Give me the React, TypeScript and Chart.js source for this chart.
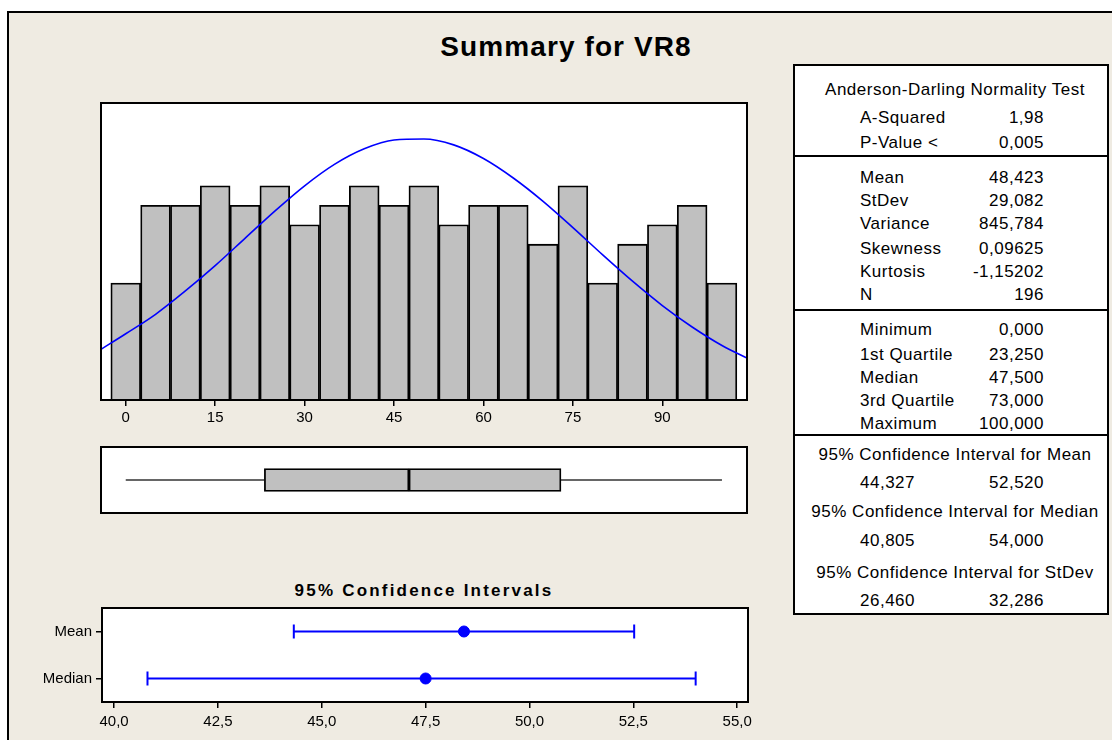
import React, { useEffect, useRef } from 'react';
import { Chart, registerables } from 'chart.js';

Chart.register(...registerables);

// ---------------- data ----------------
const TITLE = 'Summary for VR8';
const CI_PANEL_TITLE = '95% Confidence Intervals';

// histogram (bin centers, counts)
const BIN_CENTERS = [0, 5, 10, 15, 20, 25, 30, 35, 40, 45, 50, 55, 60, 65, 70, 75, 80, 85, 90, 95, 100];
const BIN_COUNTS = [6, 10, 10, 11, 10, 11, 9, 10, 11, 10, 11, 9, 10, 10, 8, 11, 6, 8, 9, 10, 6];
const HIST_TICKS = [0, 15, 30, 45, 60, 75, 90];
const HIST_X_RANGE = [-4.15, 104.2];
const HIST_Y_MAX = 15.25;

// fitted normal curve (in count units)
const CURVE_X = [-4.15, 0, 5, 10, 15, 20, 25, 30, 35, 40, 45, 50, 55, 60, 65, 70, 75, 80, 85, 90, 95, 100, 104.2];
const CURVE_Y = [2.6, 3.4, 4.4, 5.6, 6.9, 8.3, 9.7, 11.0, 12.1, 12.9, 13.35, 13.4, 13.1, 12.4, 11.4, 10.2, 8.85, 7.45, 6.1, 4.85, 3.75, 2.8, 2.15];

// five-number summary (min, Q1, median, Q3, max)
const QUANT_LABELS = ['Minimum', '1st Quartile', 'Median', '3rd Quartile', 'Maximum'];
const QUANT_VALUES = [0, 23.25, 47.5, 73, 100];

// Anderson-Darling
const AD_LABELS = ['A-Squared', 'P-Value <'];
const AD_VALUES = [1.98, 0.005];
const AD_DECIMALS = [2, 3];

// descriptive statistics
const DESC_LABELS = ['Mean', 'StDev', 'Variance', 'Skewness', 'Kurtosis', 'N'];
const DESC_VALUES = [48.423, 29.082, 845.784, 0.09625, -1.15202, 196];
const DESC_DECIMALS = [3, 3, 3, 5, 5, 0];

// confidence intervals
const CI_NAMES = ['Mean', 'Median', 'StDev'];
const CI_LOWER = [44.327, 40.805, 26.46];
const CI_UPPER = [52.52, 54.0, 32.286];
const CI_PLOT_LABELS = ['Mean', 'Median'];
const CI_PLOT_CENTER = [48.423, 47.5];
const CI_TICKS = [40, 42.5, 45, 47.5, 50, 52.5, 55];
const CI_X_RANGE = [39.71, 55.26];

// ---------------- styles ----------------
const BG = '#EFEBE2';
const BLUE = '#0000FF';
const BAR_GRAY = '#C0C0C0';
const TICK_FONT = { family: "'Liberation Sans', Arial, sans-serif", size: 15 };
const TEXT_FAMILY = "'Liberation Sans', Arial, sans-serif";

const fmt = (v: number, d: number) => v.toFixed(d).replace('.', ',');

const framePlugin = {
  id: 'panelFrame',
  beforeDraw(chart: any) {
    const { ctx, chartArea: a } = chart;
    ctx.save();
    ctx.fillStyle = '#FFFFFF';
    ctx.fillRect(a.left, a.top, a.width, a.height);
    ctx.restore();
  },
  afterDraw(chart: any) {
    const { ctx, chartArea: a } = chart;
    ctx.save();
    ctx.strokeStyle = '#000000';
    ctx.lineWidth = 2;
    ctx.strokeRect(a.left, a.top, a.width, a.height);
    ctx.restore();
  },
};

const axisGrid = { drawOnChartArea: false, drawTicks: true, tickLength: 6, color: '#000', lineWidth: 1.5, offset: false };

function Txt(props: { x: number; y: number; align?: 'left' | 'center' | 'right'; size?: number; bold?: boolean; spacing?: number; children: React.ReactNode }) {
  const { x, y, align = 'left', size = 17, bold = false, spacing = 0.5, children } = props;
  const lh = Math.round(size * 1.2);
  const style: React.CSSProperties = {
    position: 'absolute',
    top: y - lh / 2,
    lineHeight: `${lh}px`,
    fontSize: size,
    fontFamily: TEXT_FAMILY,
    fontWeight: bold ? 700 : 400,
    letterSpacing: spacing,
    whiteSpace: 'nowrap',
    color: '#000',
  };
  if (align === 'left') style.left = x;
  else if (align === 'right') style.right = 1112 - x;
  else {
    style.left = x;
    style.transform = 'translateX(-50%)';
  }
  return <div style={style}>{children}</div>;
}

export default function App() {
  const histRef = useRef<HTMLCanvasElement>(null);
  const boxRef = useRef<HTMLCanvasElement>(null);
  const ciRef = useRef<HTMLCanvasElement>(null);

  useEffect(() => {
    const charts: Chart[] = [];

    // Histogram + normal curve
    charts.push(
      new Chart(histRef.current!, {
        type: 'bar',
        data: {
          datasets: [
            {
              type: 'line',
              data: CURVE_X.map((x, i) => ({ x, y: CURVE_Y[i] })),
              borderColor: BLUE,
              borderWidth: 1.6,
              pointRadius: 0,
              cubicInterpolationMode: 'monotone',
              order: 0,
            } as any,
            {
              type: 'bar',
              data: BIN_CENTERS.map((x, i) => ({ x, y: BIN_COUNTS[i] })),
              backgroundColor: BAR_GRAY,
              borderColor: '#000',
              borderWidth: 1.8,
              barPercentage: 1,
              categoryPercentage: 1,
              order: 1,
            } as any,
          ],
        },
        options: {
          animation: false,
          responsive: false,
          events: [],
          layout: { padding: { left: 21, right: 23, top: 11, bottom: 0 } },
          plugins: { legend: { display: false }, tooltip: { enabled: false } },
          scales: {
            x: {
              type: 'linear',
              min: HIST_X_RANGE[0],
              max: HIST_X_RANGE[1],
              offset: false,
              afterBuildTicks: (s: any) => {
                s.ticks = HIST_TICKS.map((v) => ({ value: v }));
              },
              afterFit: (s: any) => {
                s.height = 42;
              },
              ticks: { font: TICK_FONT, color: '#000', padding: 3, autoSkip: false, maxRotation: 0, callback: (v: any) => String(v) },
              grid: axisGrid,
              border: { display: false },
            },
            y: { display: false, min: 0, max: HIST_Y_MAX },
          },
        } as any,
        plugins: [framePlugin],
      })
    );

    // Boxplot
    const [mn, q1, med, q3, mx] = QUANT_VALUES;
    charts.push(
      new Chart(boxRef.current!, {
        type: 'bar',
        data: {
          datasets: [
            {
              type: 'bar',
              indexAxis: 'y',
              data: [
                { x: [q1, med], y: 0 },
                { x: [med, q3], y: 0 },
              ],
              backgroundColor: BAR_GRAY,
              borderColor: '#000',
              borderWidth: 1.8,
              borderSkipped: false,
              barThickness: 23,
              order: 0,
            } as any,
            {
              type: 'line',
              data: [
                { x: mn, y: 0 },
                { x: q1, y: 0 },
              ],
              borderColor: '#333',
              borderWidth: 1.6,
              pointRadius: 0,
              order: 1,
            } as any,
            {
              type: 'line',
              data: [
                { x: q3, y: 0 },
                { x: mx, y: 0 },
              ],
              borderColor: '#333',
              borderWidth: 1.6,
              pointRadius: 0,
              order: 1,
            } as any,
          ],
        },
        options: {
          animation: false,
          responsive: false,
          events: [],
          layout: { padding: { left: 21, right: 23, top: 7, bottom: 7 } },
          plugins: { legend: { display: false }, tooltip: { enabled: false } },
          scales: {
            x: { type: 'linear', display: false, min: HIST_X_RANGE[0], max: HIST_X_RANGE[1], offset: false },
            y: { type: 'linear', display: false, min: -1, max: 1, offset: false },
          },
        } as any,
        plugins: [framePlugin],
      })
    );

    // Confidence intervals
    charts.push(
      new Chart(ciRef.current!, {
        type: 'line',
        data: {
          datasets: [
            {
              data: CI_PLOT_LABELS.map((lab, i) => ({ x: CI_PLOT_CENTER[i], y: lab })),
              showLine: false,
              pointStyle: 'circle',
              pointRadius: 5.5,
              pointBackgroundColor: BLUE,
              pointBorderColor: BLUE,
              pointBorderWidth: 1,
              order: 0,
            } as any,
            ...CI_PLOT_LABELS.map(
              (lab, i) =>
                ({
                  data: [
                    { x: CI_LOWER[i], y: lab },
                    { x: CI_UPPER[i], y: lab },
                  ],
                  borderColor: BLUE,
                  borderWidth: 2,
                  pointStyle: 'line',
                  pointRotation: 90,
                  pointRadius: 7,
                  pointBorderWidth: 2,
                  pointBorderColor: BLUE,
                  order: 1,
                }) as any
            ),
          ],
        },
        options: {
          animation: false,
          responsive: false,
          events: [],
          layout: { padding: { left: 30, right: 22, top: 11, bottom: 0 } },
          plugins: { legend: { display: false }, tooltip: { enabled: false } },
          scales: {
            x: {
              type: 'linear',
              min: CI_X_RANGE[0],
              max: CI_X_RANGE[1],
              offset: false,
              afterBuildTicks: (s: any) => {
                s.ticks = CI_TICKS.map((v) => ({ value: v }));
              },
              afterFit: (s: any) => {
                s.height = 38;
              },
              ticks: { font: TICK_FONT, color: '#000', padding: 5, autoSkip: false, maxRotation: 0, callback: (v: any) => fmt(Number(v), 1) },
              grid: axisGrid,
              border: { display: false },
            },
            y: {
              type: 'category',
              labels: CI_PLOT_LABELS,
              offset: true,
              afterFit: (s: any) => {
                s.width = 72;
              },
              ticks: { font: TICK_FONT, color: '#000', padding: 4 },
              grid: axisGrid,
              border: { display: false },
            },
          },
        } as any,
        plugins: [framePlugin],
      })
    );

    return () => charts.forEach((c) => c.destroy());
  }, []);

  const adRows = [118, 143];
  const descRows = [178, 201, 224, 249, 272, 295];
  const quantRows = [330, 355, 378, 401, 424];
  const ciHeadRows = [455, 512, 573];
  const ciValRows = [483, 541, 601];
  const seps = [156, 310, 435];
  const LABEL_X = 860;
  const VALUE_R = 1044;
  const TABLE_CX = 955;

  return (
    <div style={{ position: 'absolute', left: 0, top: 0, width: 1112, height: 740, overflow: 'hidden', background: '#fff' }}>
      <div
        style={{
          position: 'absolute',
          left: 7,
          top: 11,
          width: 1300,
          height: 900,
          background: BG,
          borderTop: '2px solid #000',
          borderLeft: '2px solid #000',
        }}
      />
      <Txt x={566} y={47} align="center" size={28} bold spacing={1.1}>
        {TITLE}
      </Txt>

      <canvas ref={histRef} width={690} height={350} style={{ position: 'absolute', left: 80, top: 92 }} />
      <canvas ref={boxRef} width={690} height={80} style={{ position: 'absolute', left: 80, top: 440 }} />

      <Txt x={424} y={591} align="center" size={17} bold spacing={2.2}>
        {CI_PANEL_TITLE}
      </Txt>
      <canvas ref={ciRef} width={770} height={145} style={{ position: 'absolute', left: 0, top: 595 }} />

      {/* statistics table */}
      <div
        style={{
          position: 'absolute',
          left: 793,
          top: 64,
          width: 316,
          height: 551,
          boxSizing: 'border-box',
          border: '2px solid #000',
          background: '#fff',
        }}
      />
      {seps.map((y) => (
        <div key={y} style={{ position: 'absolute', left: 793, top: y - 1, width: 316, height: 2, background: '#000' }} />
      ))}

      <Txt x={TABLE_CX} y={90} align="center">
        Anderson-Darling Normality Test
      </Txt>
      {AD_LABELS.map((l, i) => (
        <React.Fragment key={l}>
          <Txt x={LABEL_X} y={adRows[i]}>{l}</Txt>
          <Txt x={VALUE_R} y={adRows[i]} align="right">
            {fmt(AD_VALUES[i], AD_DECIMALS[i])}
          </Txt>
        </React.Fragment>
      ))}
      {DESC_LABELS.map((l, i) => (
        <React.Fragment key={l}>
          <Txt x={LABEL_X} y={descRows[i]}>{l}</Txt>
          <Txt x={VALUE_R} y={descRows[i]} align="right">
            {fmt(DESC_VALUES[i], DESC_DECIMALS[i])}
          </Txt>
        </React.Fragment>
      ))}
      {QUANT_LABELS.map((l, i) => (
        <React.Fragment key={l}>
          <Txt x={LABEL_X} y={quantRows[i]}>{l}</Txt>
          <Txt x={VALUE_R} y={quantRows[i]} align="right">
            {fmt(QUANT_VALUES[i], 3)}
          </Txt>
        </React.Fragment>
      ))}
      {CI_NAMES.map((n, i) => (
        <React.Fragment key={n}>
          <Txt x={TABLE_CX} y={ciHeadRows[i]} align="center">
            {`95% Confidence Interval for ${n}`}
          </Txt>
          <Txt x={LABEL_X} y={ciValRows[i]}>{fmt(CI_LOWER[i], 3)}</Txt>
          <Txt x={VALUE_R} y={ciValRows[i]} align="right">
            {fmt(CI_UPPER[i], 3)}
          </Txt>
        </React.Fragment>
      ))}
    </div>
  );
}
